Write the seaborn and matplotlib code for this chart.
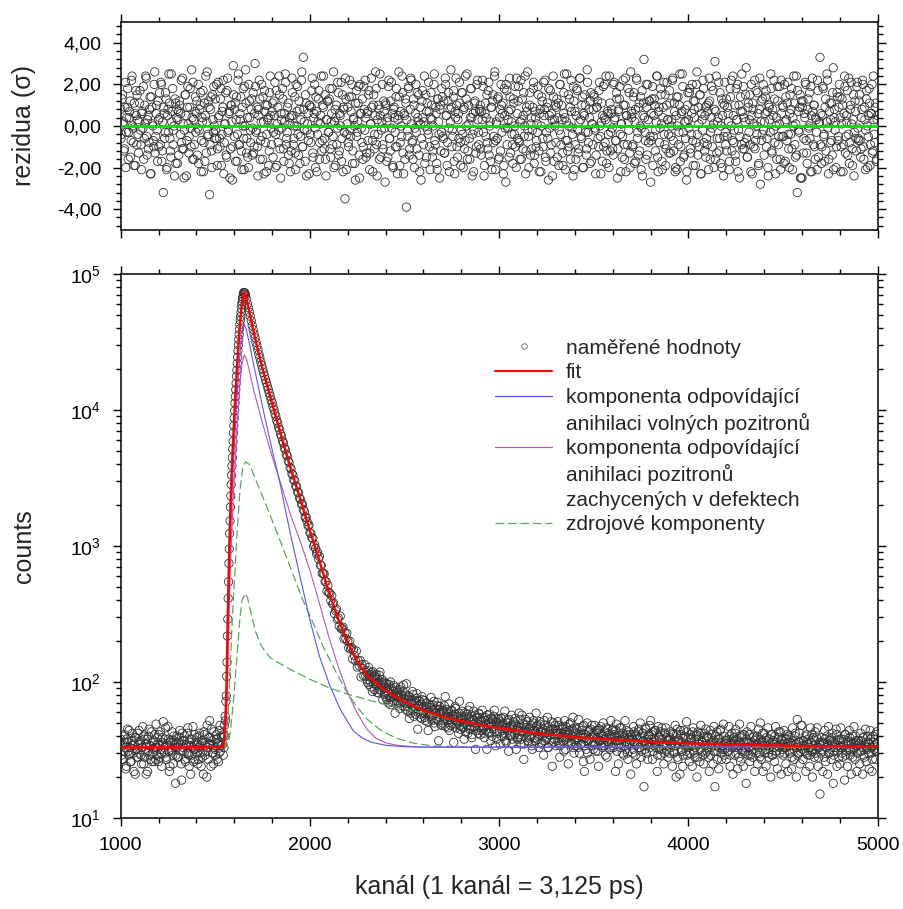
import numpy as np
import matplotlib
matplotlib.use("Agg")
import matplotlib.pyplot as plt
import seaborn as sns
from matplotlib.lines import Line2D
from matplotlib.ticker import MultipleLocator, FixedLocator, FuncFormatter, LogLocator, NullFormatter

# ---------------- data ----------------
# residuals, channels 1000..5000 step 5 (one row = 100 channels)
resid = [
 0.8,-0.4,1.5,0.2,-1.1,2.1,-0.3,0.9,-1.6,0.4,1.2,-0.7,2.4,-0.1,-1.9,0.6,1.7,-0.9,0.3,-1.3,
 1.1,-0.2,-2.1,0.7,1.9,-0.6,0.1,2.3,-1.4,0.5,-0.8,1.4,-2.3,0.9,0.0,-1.0,2.6,-0.5,1.0,-1.7,
 0.3,1.6,-0.9,2.0,-1.2,-3.2,0.6,-0.3,1.3,-2.0,0.8,2.5,-0.6,-1.5,0.2,1.8,-0.2,-2.4,1.1,0.4,
 -1.8,0.7,1.2,-0.4,2.2,-1.1,0.1,-2.5,1.5,0.5,-0.7,1.9,-1.3,0.9,-0.1,2.7,-1.6,0.3,-0.9,1.4,
 0.6,-1.4,2.0,-0.2,1.0,-2.2,0.4,1.7,-0.8,-1.7,2.4,0.2,-0.5,1.2,-3.3,0.8,-1.2,1.5,-0.3,0.0,
 1.3,-0.6,-1.9,2.1,0.5,-1.0,1.8,-0.4,0.9,-2.3,0.1,1.6,-1.5,2.3,-0.2,0.7,-1.1,1.0,-2.6,2.9,
 -0.5,1.1,0.3,-1.7,2.2,-0.9,0.6,1.4,-2.1,0.0,-0.6,1.9,2.7,-1.3,0.4,-2.0,1.2,-0.2,0.8,-1.4,
 1.6,-1.0,3.0,-0.3,0.9,-2.4,0.5,1.3,-0.7,2.0,-1.6,0.2,1.7,-0.8,-2.2,1.0,0.4,-1.2,2.4,-0.1,
 0.7,-1.5,1.2,2.1,-0.4,-1.9,0.9,-0.2,1.5,-2.5,0.3,1.8,-1.1,0.6,2.5,-0.9,-0.3,1.1,-1.8,0.1,
 -1.2,2.3,0.5,-0.6,1.4,-2.1,0.0,1.9,-1.4,0.8,-0.5,2.2,-1.0,3.3,0.2,-1.7,1.1,-0.2,0.6,-2.3,
 1.0,-0.8,1.7,-1.3,0.4,2.0,-2.0,0.7,-0.4,1.3,-1.6,0.1,2.4,-0.7,0.9,-1.1,1.5,-2.4,0.3,1.2,
 -0.3,1.8,-1.5,0.6,-0.9,2.6,0.2,-1.9,1.0,-0.1,1.6,-1.2,0.5,2.1,-0.6,-2.2,0.8,-3.5,1.3,-0.4,
 0.9,-1.0,2.2,-0.5,1.4,-1.8,0.3,0.0,-2.6,1.7,-0.3,1.1,-1.4,2.0,0.6,-0.8,-1.6,1.9,-0.2,0.4,
 -1.3,0.7,1.5,-2.1,0.1,2.3,-0.7,1.0,-1.1,0.5,1.8,-2.4,-0.4,0.8,2.5,-1.5,0.2,-0.9,1.2,-0.1,
 1.1,-1.7,0.4,1.9,-0.6,-1.2,2.1,0.6,-2.0,0.9,-0.3,1.4,-1.0,0.3,2.6,-1.9,0.7,-0.5,1.6,-2.3,
 0.5,1.3,-3.9,-0.2,1.8,-1.4,0.8,2.2,-0.8,-1.6,1.0,-0.1,2.0,-1.1,0.4,1.5,-2.2,0.1,-0.6,1.7,
 -0.9,2.4,0.0,-1.5,1.1,-0.4,0.7,-2.1,1.6,0.3,-1.2,2.0,-0.7,0.9,-1.8,1.3,0.2,-2.5,1.0,-0.3,
 1.4,-0.6,-1.3,2.3,0.5,-1.9,1.2,-0.1,0.8,2.7,-1.0,-0.5,1.7,-2.3,0.4,1.0,-1.5,0.6,2.1,-0.8,
 -0.2,1.6,-2.0,0.9,-0.7,1.3,2.5,-1.2,0.1,-1.6,1.8,0.4,-0.4,-2.2,1.1,0.7,-1.0,2.2,-0.3,0.8,
 1.0,-1.4,0.3,1.9,-2.4,0.6,-0.5,1.5,-1.1,2.1,0.0,-1.7,0.9,1.2,-0.8,2.4,-2.1,0.2,-0.6,1.4,
 -1.5,0.8,2.0,-0.3,1.1,-1.9,0.5,-2.7,1.7,-0.1,0.7,2.3,-1.3,0.2,-0.9,1.3,-0.4,1.9,-2.0,0.6,
 1.2,-0.7,-1.6,2.2,0.3,-1.1,1.6,0.0,-2.3,0.9,2.6,-0.5,1.0,-1.4,0.4,-0.2,1.8,-1.8,0.7,-1.0,
 0.1,1.9,-1.2,0.6,-2.2,1.4,-0.6,2.1,0.8,-1.5,-0.3,1.1,-2.6,0.5,1.7,-0.9,0.3,2.4,-1.7,0.0,
 -0.8,1.3,0.4,-1.9,2.0,-0.4,1.0,-1.3,0.6,2.5,-2.1,0.2,-0.7,1.5,-1.0,0.9,2.2,-0.1,-2.4,1.2,
 0.7,-1.6,1.8,-0.2,-1.1,2.3,0.3,-0.6,1.4,-2.0,0.5,1.0,-1.4,2.7,-0.3,0.8,-1.8,1.6,0.1,-0.9,
 1.5,-0.1,-2.3,0.9,1.2,-1.0,2.1,-0.5,0.2,-1.7,1.9,0.4,-0.8,2.4,-1.2,0.6,-2.0,1.1,-0.3,0.8,
 -1.1,2.0,0.3,-0.7,1.6,-2.5,0.7,1.3,-0.4,0.1,-1.5,2.2,-0.9,1.0,-2.2,0.5,1.8,-0.2,-1.3,2.6,
 0.4,-1.0,1.4,-1.8,0.8,2.3,-0.6,-1.4,1.1,0.0,-2.1,1.7,0.5,3.2,-0.3,-1.6,0.9,2.0,-0.8,1.2,
 -2.7,0.6,1.9,-0.5,1.3,-1.2,0.2,2.4,-2.2,0.9,-0.1,1.5,-1.7,0.4,2.1,-0.9,-1.9,1.0,0.3,-0.4,
 1.7,-1.3,0.0,2.2,-0.7,1.1,-2.2,0.5,-2.1,1.4,-0.3,2.5,-1.0,0.7,1.9,-1.5,0.2,-0.6,-2.6,1.0,
 0.3,1.6,-1.1,-0.4,2.0,-1.9,0.8,1.2,-0.8,2.6,-1.4,0.1,1.5,-2.3,0.6,-0.2,1.8,-1.2,0.9,-0.6,
 -0.9,1.1,2.3,-1.6,0.4,-0.1,1.7,-2.0,3.1,0.7,-1.3,0.2,2.1,-0.6,-1.8,1.3,0.5,-2.4,1.0,-0.3,
 1.3,-0.5,0.6,-2.1,1.8,0.0,-1.2,2.4,-0.8,1.0,-1.7,0.3,2.0,-0.2,-2.5,1.4,-0.9,0.7,1.9,-1.1,
 0.2,2.8,-1.5,0.9,-0.3,1.5,-2.2,0.5,1.1,-1.0,2.2,-0.7,0.0,1.6,-1.9,0.8,-2.8,1.2,-0.4,2.0,
 -1.4,0.6,1.7,-0.6,-2.0,1.0,0.3,2.5,-1.2,0.8,-0.2,1.3,-2.3,0.4,1.9,-0.9,0.1,-1.6,2.2,-0.5,
 0.9,-1.8,0.2,1.4,-0.7,2.1,-1.1,0.6,-0.4,1.8,-2.1,0.0,1.1,-1.5,2.4,-3.2,0.7,-0.3,1.5,-2.5,
 -2.5,1.2,-0.6,0.4,2.0,-1.3,0.8,-0.1,1.6,-2.2,0.5,2.3,-0.9,1.0,-1.6,0.3,-2.1,1.7,0.1,3.3,
 0.6,-1.0,1.9,-0.5,-1.7,1.3,0.2,2.2,-2.3,0.7,-0.8,1.1,-1.4,2.8,0.4,-0.2,-2.0,1.6,-0.7,0.9,
 1.4,-2.2,0.1,1.0,-0.9,2.4,-1.3,0.5,1.7,-0.4,-1.8,0.8,2.1,-1.1,0.3,-2.4,1.2,-0.6,1.9,-0.1,
 -0.7,1.5,-1.5,0.4,2.2,-1.0,0.9,-2.1,1.3,0.0,-0.5,1.8,-1.9,0.6,2.0,-1.2,0.3,-0.8,1.1,-1.6,
 0.5]
# residuals in between, channels 1002..4997 step 5
resid_b = [
 -0.6,1.3,0.1,-1.2,0.9,-2.0,0.4,1.8,-0.3,0.7,-1.5,2.2,0.0,-0.8,1.1,-1.9,0.5,1.5,-0.4,0.2,
 1.7,-0.9,0.6,-0.1,-1.6,1.0,2.4,-0.5,0.3,-1.1,0.8,-2.3,1.4,0.1,-0.7,2.0,-1.3,0.6,-0.2,1.2,
 -1.0,0.4,2.1,-1.7,0.2,0.9,-0.6,1.6,-2.1,0.5,-0.3,1.1,-1.2,2.5,0.7,-0.9,0.0,1.3,-1.8,0.8,
 0.3,-1.4,1.0,0.6,-0.8,2.3,-1.1,-0.2,1.5,-2.4,0.9,0.1,-0.5,1.8,-1.0,0.4,2.1,-1.6,0.7,-0.3,
 1.2,-0.1,-1.8,0.8,1.6,-0.7,0.2,-2.2,1.1,0.5,-1.3,2.6,-0.4,0.9,-0.9,1.4,-2.0,0.3,1.9,-0.6,
 -0.2,2.0,-1.1,0.4,-0.6,1.3,-1.9,0.7,2.2,-0.8,0.1,-1.4,1.7,-0.3,0.6,-2.5,1.0,0.2,-1.0,1.5,
 0.8,-1.7,1.4,-0.4,2.5,-0.9,0.3,-1.2,0.9,1.8,-2.1,0.0,1.1,-0.6,-1.5,2.0,0.4,-0.8,1.3,-0.1,
 -1.3,0.6,1.9,-0.2,-1.0,0.8,2.2,-1.6,0.2,-0.5,1.4,-2.3,0.7,1.0,-0.4,0.3,-1.9,1.6,0.5,-0.9,
 1.1,-0.3,0.5,-2.0,1.7,0.1,-0.8,2.4,-1.1,0.6,-0.1,1.3,-1.7,0.2,2.1,-0.6,0.9,-1.4,0.4,-2.2,
 0.5,1.6,-0.9,0.0,-1.3,2.0,0.7,-0.4,1.2,-1.8,0.3,2.6,-1.0,0.8,-0.2,1.5,-2.4,0.1,-0.7,1.0,
 -0.4,0.9,2.3,-1.5,0.6,-0.1,1.4,-2.2,0.2,1.7,-0.8,0.5,-1.2,1.0,2.4,-0.6,-1.6,0.3,1.2,-0.3,
 1.3,-1.1,0.2,1.8,-0.5,-2.0,0.8,0.4,-0.9,2.1,-1.4,0.6,0.0,-1.7,1.5,0.9,-0.3,2.3,-2.1,0.1,
 -0.8,1.4,-0.2,0.7,2.0,-1.2,0.4,-1.8,1.1,-0.5,0.2,1.9,-2.5,0.6,-0.1,1.3,-1.0,0.8,2.2,-1.5,
 0.6,-0.7,1.7,-1.3,0.1,0.9,-2.2,1.5,-0.4,2.6,-0.9,0.3,1.0,-1.6,0.5,-0.2,2.0,-1.1,0.7,-2.7,
 1.0,0.2,-1.5,2.2,-0.6,1.2,-0.1,-1.9,0.8,0.4,-1.0,1.8,-2.3,0.5,1.4,-0.8,0.0,2.4,-1.3,0.6,
 -1.6,1.1,0.3,-0.5,1.9,-1.1,2.3,0.1,-0.7,1.3,-2.0,0.6,-0.3,1.6,0.2,-1.4,0.9,-2.6,1.2,0.4,
 0.2,-1.8,1.5,0.7,-0.2,2.1,-1.0,0.4,1.0,-1.5,0.0,2.5,-0.9,0.6,-2.1,1.3,-0.4,0.8,-1.2,1.8,
 -0.5,1.2,-1.3,2.0,0.5,-0.8,1.6,-2.2,0.2,0.9,-0.2,1.4,-1.7,0.7,2.3,-1.0,0.3,-0.6,1.1,-1.9,
 1.6,-0.4,0.8,-1.1,2.4,0.0,-1.6,1.0,-0.6,0.4,1.8,-2.4,0.6,-0.2,1.2,-1.3,2.0,0.3,-0.9,0.7,
 -1.1,0.7,2.2,-0.3,-1.9,1.1,0.4,-0.8,1.7,-1.4,0.2,0.9,-2.1,1.5,-0.5,2.6,-0.7,0.1,1.3,-1.6,
 0.4,-1.2,1.0,0.6,-2.3,1.8,-0.1,2.0,-0.9,0.3,-1.5,1.4,0.8,-0.4,-1.8,1.1,0.0,-1.0,2.3,-0.6,
 1.9,-0.8,0.2,-1.6,1.3,0.5,-0.5,2.4,-1.2,0.7,-0.2,-2.0,1.6,0.1,-1.1,0.9,2.1,-1.4,0.4,-0.7,
 -0.3,1.5,-2.2,0.8,0.0,1.2,-1.0,0.5,2.2,-1.7,0.9,-0.6,1.8,-0.1,-1.3,0.6,-2.4,1.4,0.3,1.0,
 0.9,-1.5,1.1,-0.2,2.0,-0.9,0.3,-1.9,1.6,0.4,-0.7,2.5,-1.2,0.0,1.3,-1.6,0.7,-0.4,1.9,-2.1,
 -0.9,0.5,1.7,-1.3,0.2,2.3,-0.5,1.0,-2.0,0.6,1.5,-0.3,-1.1,2.1,-0.8,0.4,1.2,-1.7,0.1,0.8,
 1.4,-0.2,-1.4,0.9,-0.6,1.7,0.0,-2.3,1.1,0.5,-1.0,2.0,0.3,-1.8,0.7,-0.4,2.4,-1.2,0.6,-0.1,
 -1.4,2.1,0.4,-0.7,1.3,-1.1,0.8,1.9,-2.2,0.1,-0.5,1.0,-1.6,2.3,0.5,-0.9,0.2,1.6,-2.0,0.7,
 0.6,-0.9,1.6,0.2,-1.7,2.2,-0.3,0.9,-1.2,1.4,-0.1,-2.4,1.1,0.4,-0.7,2.0,-1.4,0.3,1.2,-0.5,
 -0.7,1.3,-1.9,0.5,1.0,-0.2,2.4,-1.5,0.7,-0.8,1.8,0.1,-2.1,0.9,-0.4,1.5,-1.1,2.1,0.3,-1.3,
 1.1,-0.5,0.3,2.3,-1.2,0.7,-2.0,1.4,0.0,-0.9,1.0,-1.7,0.6,2.5,-0.3,-1.4,0.8,0.2,-2.2,1.6,
 -0.1,1.8,-1.3,0.6,-0.7,1.2,0.4,-1.9,2.0,-0.4,0.9,-1.0,1.5,-2.3,0.3,2.2,-0.8,0.5,-1.5,1.0,
 0.7,-2.1,1.2,-0.3,1.9,-1.0,0.1,0.8,-1.6,2.4,-0.6,0.4,-1.2,1.6,0.0,-2.0,1.1,-0.5,2.1,-0.9,
 -1.2,0.9,0.2,-1.7,1.4,2.2,-0.7,0.5,-0.2,-1.4,1.8,0.3,-2.2,1.0,-0.5,0.7,2.5,-1.1,0.4,-0.8,
 1.5,-0.6,-1.5,1.1,0.3,-0.9,2.0,-2.3,0.8,0.1,-1.1,1.7,-0.4,0.6,-1.8,2.3,0.2,-0.7,1.3,-0.2,
 0.2,1.4,-1.0,0.7,-2.4,0.9,-0.3,1.8,-1.3,0.5,2.2,-0.8,0.0,-1.6,1.2,-0.5,1.9,-2.1,0.6,1.0,
 -0.5,2.0,-1.7,0.3,1.1,-0.4,-2.0,1.5,0.8,-1.1,0.4,2.4,-0.9,0.1,-1.4,1.7,-0.2,0.9,-2.5,1.2,
 0.9,-1.3,0.6,2.1,-0.7,-1.8,1.3,0.0,-0.6,1.9,-2.2,0.7,1.0,-1.0,0.4,-0.3,2.2,-1.5,0.2,-0.9,
 -1.8,0.5,1.8,-0.4,0.9,-1.2,2.5,-0.1,-1.6,1.1,0.3,-0.7,1.6,-2.1,0.8,0.2,-1.0,1.4,-0.5,2.0,
 0.4,-1.0,1.3,-2.2,0.6,1.9,-0.5,0.2,-1.4,2.3,-0.8,1.0,0.1,-1.9,1.5,-0.3,0.7,-1.2,2.1,-0.6,
 1.2,-0.7,-1.1,0.8,2.0,-1.6,0.3,-0.2,1.7,-2.0,0.5,1.1,-0.9,0.6,-1.3,2.4,-0.4,0.9,-1.7,0.3]
ch_resid = 1000 + 5 * np.arange(len(resid))
ch_resid_b = 1002 + 5 * np.arange(len(resid_b))

# measured counts: baseline channels 1000..1535 step 5 and 1002..1532 step 5
base_counts = [
 38,29,35,27,41,33,24,36,31,44,30,26,37,34,22,39,32,28,42,35,
 30,37,25,33,40,28,35,21,38,31,45,29,34,26,36,32,41,27,33,39,
 26,34,43,30,36,51,33,38,28,35,47,31,24,37,32,29,40,34,18,36,
 33,28,39,35,25,42,31,37,27,34,30,46,29,36,21,38,33,26,41,32,
 35,30,27,40,34,24,37,31,43,29,36,20,33,39,52,35,45,30,25,38,
 32,41,27,36,30,48,34,39]
base_counts_b = [
 34,27,40,31,36,23,38,45,29,33,26,37,42,30,35,21,39,32,28,44,
 36,29,33,47,25,38,31,35,22,40,34,27,43,30,37,26,33,49,29,35,
 41,28,32,24,39,35,30,46,27,34,38,22,36,31,43,25,37,33,29,40,
 28,36,44,31,19,37,33,40,26,35,42,30,24,38,34,29,47,32,27,36,
 39,25,33,42,30,36,28,21,41,34,31,48,27,35,39,24,37,30,43,33,
 29,38,35,26,44,31,40]
ch_base = 1000 + 5 * np.arange(len(base_counts))
ch_base_b = 1002 + 5 * np.arange(len(base_counts_b))

# rising edge, channels 1540..1660 step 2 (log10 of counts)
rise_log10 = [
 1.544,1.462,1.613,1.519,1.681,1.602,1.748,1.716,1.857,1.898,
 2.041,2.146,2.338,2.462,2.615,2.737,2.872,2.978,3.092,3.185,
 3.286,3.368,3.452,3.520,3.588,3.649,3.712,3.768,3.831,3.884,
 3.941,3.994,4.051,4.098,4.149,4.196,4.247,4.293,4.341,4.388,
 4.437,4.478,4.518,4.554,4.594,4.629,4.660,4.687,4.718,4.745,
 4.776,4.797,4.815,4.830,4.848,4.862,4.864,4.861,4.859,4.851,
 4.839]
ch_rise = 1540 + 2 * np.arange(len(rise_log10))

# falling edge, channels 1665..2295 step 5 (log10 of counts)
fall_log10 = [
 4.814,4.780,4.752,4.719,4.689,4.656,4.621,4.591,4.559,4.531,
 4.499,4.471,4.441,4.410,4.385,4.355,4.329,4.301,4.274,4.251,
 4.224,4.201,4.174,4.151,4.124,4.101,4.073,4.052,4.023,4.002,
 3.973,3.953,3.922,3.904,3.871,3.855,3.822,3.805,3.772,3.757,
 3.722,3.709,3.674,3.662,3.626,3.614,3.577,3.567,3.531,3.523,
 3.486,3.480,3.441,3.436,3.397,3.392,3.353,
 3.343,3.309,3.306,3.269,3.254,3.209,3.212,3.180,3.149,3.154,
 3.097,3.093,3.062,3.057,2.997,3.010,2.981,2.943,2.955,2.906,
 2.923,2.859,2.857,2.799,2.798,2.795,2.739,2.738,2.667,2.709,
 2.658,2.652,2.599,2.634,2.573,2.580,2.503,2.525,2.536,2.460,
 2.470,2.412,2.484,2.393,2.395,2.403,2.318,2.361,2.318,2.358,
 2.299,2.251,2.300,2.242,2.254,2.170,2.237,2.195,2.157,2.228,
 2.110,2.155,2.119,2.158,2.037,2.127,2.098,2.044,2.127,2.044]
ch_fall = 1665 + 5 * np.arange(len(fall_log10))

# tail, channels 2300..5000 step 5 and 2302..4997 step 5 (counts)
tail_counts = [
 117,99,128,109,101,117,85,107,111,98,114,84,99,88,118,92,99,74,100,83,
 78,97,86,70,90,100,78,71,85,94,59,78,87,71,79,64,92,79,72,95,
 75,63,97,66,79,54,73,69,62,81,56,73,64,82,45,67,72,58,54,74,
 59,73,52,66,60,44,68,56,77,52,62,72,47,59,53,67,37,63,59,48,
 62,52,67,78,56,59,46,69,53,48,62,56,36,58,64,49,52,42,72,45,
 53,61,46,38,56,50,58,42,54,66,46,39,52,61,47,32,55,49,42,58,
 41,52,62,45,42,55,48,32,53,43,58,37,49,53,45,62,34,50,42,54,
 49,35,54,44,50,40,61,37,46,52,31,47,41,57,38,48,42,54,32,45,
 39,59,46,35,57,43,27,48,53,39,43,36,55,46,40,32,50,44,37,59,
 48,40,33,51,43,36,45,29,48,42,38,55,33,43,41,51,24,45,36,48,
 34,42,51,36,28,45,40,47,37,52,32,43,39,25,49,41,35,45,55,30,
 43,34,45,39,53,30,41,35,47,26,22,39,32,50,37,44,27,41,48,34,
 36,48,31,39,44,24,45,37,41,33,50,34,38,46,28,42,36,32,52,40,
 45,33,40,22,49,37,25,42,37,46,30,39,34,52,32,41,27,43,35,21,
 40,30,47,35,41,25,38,43,33,50,28,36,42,17,32,45,35,27,40,48,
 52,38,27,43,34,44,35,22,47,32,39,29,46,34,25,42,46,31,37,38,
 30,43,35,24,41,31,48,20,45,27,37,21,41,31,24,44,34,39,51,29,
 33,26,41,38,24,46,30,28,40,20,43,35,26,48,31,36,25,42,30,39,
 40,28,22,44,33,36,25,47,17,31,43,34,23,38,45,27,32,49,29,37,
 27,38,31,47,24,35,42,21,39,29,45,33,23,36,49,26,40,31,24,41,
 33,18,43,29,36,26,47,31,28,40,22,38,34,25,45,30,50,27,36,22,
 42,30,24,37,46,28,32,20,41,29,35,26,47,31,23,39,33,43,21,37,
 29,44,33,25,38,22,40,30,36,23,46,34,27,42,20,53,30,36,25,48,
 48,27,37,31,22,41,29,35,24,46,31,20,39,28,43,32,46,24,33,15,
 30,39,22,36,44,26,33,21,47,30,38,27,42,18,31,35,45,24,37,28,
 25,46,33,28,38,19,41,31,24,36,44,29,21,40,32,47,27,37,22,34,
 37,25,42,31,21,39,28,45,26,33,36,23,44,30,22,40,32,38,27,43,
 31]
tail_counts_b = [
 104,121,96,113,92,108,119,97,88,110,95,105,83,112,96,87,104,95,81,98,
 91,74,83,96,77,68,89,82,73,91,80,69,84,77,88,70,81,67,85,76,
 66,80,70,61,74,77,59,71,85,63,70,58,76,67,60,73,55,69,78,60,
 66,55,63,70,51,61,58,65,54,68,57,50,64,60,71,52,58,66,49,61,
 50,60,54,47,63,52,58,44,55,61,49,57,53,66,46,55,50,59,48,56,
 47,55,50,59,43,53,48,62,45,51,56,41,53,47,57,50,44,54,59,46,
 51,44,55,47,39,52,45,57,48,42,50,54,40,47,56,43,51,38,48,53,
 43,51,40,47,55,42,46,36,50,44,53,40,48,35,46,51,41,49,44,38,
 47,41,53,38,44,49,35,42,46,51,37,45,40,48,34,44,52,39,43,47,
 38,45,41,49,35,43,40,52,37,44,39,33,47,41,45,36,42,50,38,43,
 44,37,41,48,34,42,39,45,31,43,47,38,41,35,44,50,36,40,33,46,
 36,42,38,33,46,40,35,44,39,48,34,41,37,30,43,38,45,36,40,32,
 41,35,44,38,31,42,37,47,34,40,36,43,29,39,45,35,41,38,33,44,
 34,41,37,44,31,39,35,46,33,38,42,29,40,36,44,30,38,35,41,37,
 38,32,43,36,29,40,35,45,33,39,31,42,37,34,46,30,38,36,41,33,
 35,41,31,38,44,33,37,29,40,36,43,32,38,35,30,42,34,39,28,37,
 39,33,36,42,30,37,34,41,28,38,35,44,32,36,29,40,35,31,43,34,
 36,30,39,34,43,31,37,33,41,28,38,35,32,42,36,29,39,34,45,31,
 33,39,35,29,41,34,37,31,40,36,27,38,33,44,30,36,34,40,32,35,
 37,31,34,40,29,36,33,38,35,42,30,37,34,28,39,35,32,41,36,30,
 31,38,35,33,41,29,36,34,39,32,37,30,40,35,33,28,38,36,42,34,
 36,32,39,34,30,38,35,41,29,37,33,40,31,36,34,43,30,35,38,32,
 35,30,38,33,41,36,31,34,39,28,37,32,40,35,33,29,36,42,31,34,
 32,37,34,40,30,35,38,33,29,36,41,31,34,37,30,39,33,28,36,35,
 36,31,35,28,38,33,40,34,30,37,32,39,35,29,36,33,41,31,34,38,
 33,38,30,36,34,41,29,35,37,32,39,31,35,28,36,33,40,34,30,37,
 35,31,37,33,39,29,34,36,32,40,30,35,38,33,27,36,34,41,31,35]
ch_tail = 2300 + 5 * np.arange(len(tail_counts))
ch_tail_b = 2302 + 5 * np.arange(len(tail_counts_b))

# fitted curve and components (channel, log10 counts)
fit_ch = [1000,1530,1540,1546,1551,1556,1560,1565,1569,1573,1577,1581,1585,1590,1596,1604,1613,
          1621,1630,1641,1650,1656,1662,1680,1700,1725,1750,1800,1850,1900,1950,2000,2050,2100,
          2150,2200,2250,2300,2350,2400,2450,2500,2600,2700,2800,2900,3000,3200,3400,3600,3800,
          4000,4300,4600,5000]
fit_log10 = [1.52,1.52,1.525,1.574,1.669,1.82,2.015,2.40,2.68,2.93,3.14,3.33,3.49,3.65,3.83,4.05,
             4.27,4.46,4.63,4.79,4.863,4.86,4.83,4.72,4.59,4.44,4.30,4.05,3.80,3.56,3.34,3.11,2.89,
             2.66,2.46,2.29,2.15,2.05,1.99,1.935,1.892,1.855,1.79,1.745,1.712,1.684,1.66,1.622,
             1.595,1.576,1.561,1.549,1.538,1.53,1.524]

free_ch = [1000,1540,1546,1551,1556,1560,1565,1569,1573,1577,1585,1596,1613,1630,1641,1650,1662,
           1680,1700,1750,1800,1842,1895,1950,2000,2050,2106,2160,2229,2280,2330,2400,2500,2600,5000]
free_log10 = [1.52,1.52,1.553,1.615,1.74,1.875,2.22,2.50,2.74,2.94,3.27,3.62,4.05,4.41,4.57,4.637,
              4.60,4.49,4.35,4.02,3.71,3.46,3.10,2.76,2.455,2.19,1.97,1.80,1.64,1.585,1.555,1.535,
              1.524,1.521,1.52]

trap_ch = [1000,1540,1546,1551,1556,1560,1565,1569,1573,1577,1585,1596,1613,1630,1641,1653,1665,
           1680,1700,1750,1800,1850,1900,1950,2000,2050,2100,2150,2200,2250,2300,2350,2400,2450,
           2529,2600,5000]
trap_log10 = [1.52,1.52,1.539,1.577,1.66,1.76,2.04,2.30,2.52,2.72,3.04,3.39,3.83,4.19,4.34,4.405,
              4.37,4.29,4.16,3.90,3.66,3.44,3.22,3.03,2.82,2.58,2.33,2.11,1.92,1.77,1.655,1.585,
              1.553,1.537,1.526,1.521,1.52]

src1_ch = [1000,1545,1551,1560,1569,1577,1585,1596,1613,1630,1645,1660,1680,1719,1780,1842,1900,
           1960,2018,2070,2124,2180,2247,2300,2370,2450,2546,2650,2800,5000]
src1_log10 = [1.52,1.52,1.53,1.57,1.80,2.07,2.32,2.63,3.05,3.41,3.57,3.62,3.60,3.47,3.26,3.04,2.83,
              2.61,2.43,2.26,2.11,1.96,1.82,1.73,1.65,1.59,1.55,1.53,1.523,1.52]

src2_ch = [1000,1545,1560,1569,1577,1585,1596,1613,1630,1641,1657,1670,1690,1710,1736,1760,1789,
           1824,1900,2000,2106,2200,2317,2400,2529,2650,2750,2850,2950,3100,3300,3500,3700,3900,
           4100,4400,4700,5000]
src2_log10 = [1.52,1.52,1.53,1.56,1.61,1.71,1.86,2.16,2.47,2.60,2.652,2.62,2.50,2.38,2.284,2.23,
              2.18,2.149,2.09,2.02,1.955,1.91,1.865,1.835,1.794,1.755,1.722,1.694,1.666,1.633,
              1.601,1.579,1.563,1.551,1.541,1.532,1.526,1.522]

legend_labels = ["naměřené hodnoty", "fit",
                 "komponenta odpovídající\nanihilaci volných pozitronů",
                 "komponenta odpovídající\nanihilaci pozitronů\nzachycených v defektech",
                 "zdrojové komponenty"]

# ---------------- style ----------------
sns.set_theme(style="ticks")
plt.rcParams["font.family"] = ["Liberation Sans", "DejaVu Sans"]
plt.rcParams["axes.edgecolor"] = "black"
plt.rcParams["xtick.color"] = "black"
plt.rcParams["ytick.color"] = "black"
plt.rcParams["axes.linewidth"] = 1.1

C_RED = "#ff0000"
C_BLUE = "#5555ff"
C_PURPLE = "#b655c0"
C_GREEN = "#55aa55"
C_EDGE = "#333333"
MK = dict(marker="o", s=36, facecolor="none", edgecolor=C_EDGE, linewidth=0.6, zorder=2)

fig = plt.figure(figsize=(9.04, 9.09), dpi=100)
fig.patch.set_facecolor("white")
ax1 = fig.add_axes([0.1335, 0.747, 0.8374, 0.2288])
ax2 = fig.add_axes([0.1335, 0.1001, 0.8374, 0.5985])

# ---------------- residual panel ----------------
sns.scatterplot(x=ch_resid, y=resid, ax=ax1, **MK)
sns.scatterplot(x=ch_resid_b, y=resid_b, ax=ax1, **MK)
ax1.axhline(0, color="#00e000", lw=2.0, zorder=3)
ax1.set_xlim(1000, 5000)
ax1.set_ylim(-5, 5)
ax1.yaxis.set_major_locator(FixedLocator([-4, -2, 0, 2, 4]))
ax1.yaxis.set_minor_locator(MultipleLocator(0.4))
ax1.yaxis.set_major_formatter(FuncFormatter(lambda v, p: f"{v:.2f}".replace(".", ",")))
ax1.set_ylabel("rezidua (σ)", fontsize=18)
ax1.set_xlabel("")

# ---------------- counts panel ----------------
ax2.set_yscale("log")
data_pts = [(ch_base, np.array(base_counts, float)),
            (ch_base_b, np.array(base_counts_b, float)),
            (ch_rise, 10 ** np.array(rise_log10)),
            (ch_fall, 10 ** np.array(fall_log10)),
            (ch_tail, np.array(tail_counts, float)),
            (ch_tail_b, np.array(tail_counts_b, float))]
for cx, cy in data_pts:
    sns.scatterplot(x=cx, y=cy, ax=ax2, **MK)

dash = (0, (7, 3))
sns.lineplot(x=src2_ch, y=10 ** np.array(src2_log10), ax=ax2, color=C_GREEN, lw=0.9,
             linestyle=dash, estimator=None, sort=False, zorder=3)
sns.lineplot(x=src1_ch, y=10 ** np.array(src1_log10), ax=ax2, color=C_GREEN, lw=0.9,
             linestyle=dash, estimator=None, sort=False, zorder=3)
sns.lineplot(x=trap_ch, y=10 ** np.array(trap_log10), ax=ax2, color=C_PURPLE, lw=0.8,
             estimator=None, sort=False, zorder=3)
sns.lineplot(x=free_ch, y=10 ** np.array(free_log10), ax=ax2, color=C_BLUE, lw=0.8,
             estimator=None, sort=False, zorder=3)
sns.lineplot(x=fit_ch, y=10 ** np.array(fit_log10), ax=ax2, color=C_RED, lw=1.8,
             estimator=None, sort=False, zorder=4)

ax2.set_xlim(1000, 5000)
ax2.set_ylim(10, 1e5)
ax2.yaxis.set_major_locator(LogLocator(base=10))
ax2.yaxis.set_minor_locator(LogLocator(base=10, subs=np.arange(2, 10)))
ax2.yaxis.set_minor_formatter(NullFormatter())
ax2.set_ylabel("counts", fontsize=18)
ax2.set_xlabel("kanál (1 kanál = 3,125 ps)", fontsize=18)

# legend: one row per text line, handle on the first line of each entry
entry_handles = [Line2D([], [], ls="none", marker="o", ms=4, mfc="none", mec="#777777", mew=0.7),
                 Line2D([], [], color=C_RED, lw=1.5),
                 Line2D([], [], color=C_BLUE, lw=0.9),
                 Line2D([], [], color=C_PURPLE, lw=0.9),
                 Line2D([], [], color=C_GREEN, lw=0.9, linestyle=dash)]
handles, labels = [], []
for h, lab in zip(entry_handles, legend_labels):
    for i, line in enumerate(lab.split("\n")):
        handles.append(h if i == 0 else Line2D([], [], color="none", lw=0))
        labels.append(line)
leg = ax2.legend(handles, labels, loc="upper left", bbox_to_anchor=(0.4945, 0.881),
                 frameon=False, fontsize=15, handlelength=2.74, handletextpad=0.67,
                 labelspacing=0.27, borderpad=0, borderaxespad=0)

for ax in (ax1, ax2):
    ax.set_facecolor("white")
    ax.xaxis.set_major_locator(MultipleLocator(1000))
    ax.xaxis.set_minor_locator(MultipleLocator(200))
    ax.tick_params(which="both", direction="out", top=True, right=True, width=1.0,
                   labelsize=14)
    ax.tick_params(which="major", length=6)
    ax.tick_params(which="minor", length=3.5)
    ax.tick_params(axis="x", which="major", pad=8)
    ax.tick_params(axis="y", which="major", pad=8)
    ax.yaxis.set_label_coords(-0.112, 0.5)
    for sp in ax.spines.values():
        sp.set_visible(True)
        sp.set_color("black")
        sp.set_linewidth(1.1)
ax1.tick_params(labelbottom=False)
ax2.xaxis.set_label_coords(0.5, -0.105)

fig.savefig("out.png", dpi=100, facecolor="white")
